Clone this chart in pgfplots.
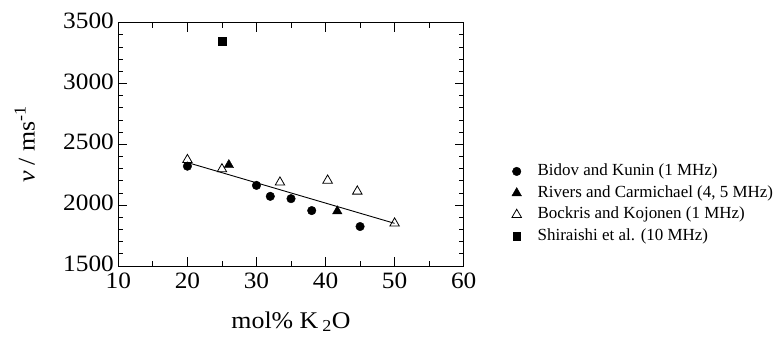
\documentclass[border=0pt]{standalone}
\usepackage{fontspec}
\setmainfont{Liberation Serif}
\newfontfamily\bigfont{Liberation Serif}[FakeStretch=1.08]
\usepackage{pgfplots}
\pgfplotsset{compat=1.18}
\begin{document}
\begin{tikzpicture}
\begin{axis}[
  name=ax,
  scale only axis,
  width=346.3pt, height=244pt,
  xmin=10, xmax=60, ymin=1500, ymax=3500,
  xtick={10,20,30,40,50,60},
  ytick={1500,2000,2500,3000,3500},
  minor x tick num=1,
  minor y tick num=4,
  tick pos=both, tick align=inside,
  major tick length=9pt, minor tick length=5pt,
  axis line style={line width=0.8pt},
  every tick/.style={black, line width=0.8pt},
  /pgf/number format/assume math mode=true,
  /pgf/number format/1000 sep={},
  ticklabel style={font=\bigfont\fontsize{23.5}{23.5}\selectfont},
  xticklabel style={yshift=-3pt},
  yticklabel style={xshift=-1pt, yshift=2pt},
  xlabel={mol\% K\,\textsubscript{2}O},
  ylabel={\textit{v} / ms\textsuperscript{-1}},
  label style={font=\bigfont\fontsize{24}{24}\selectfont},
  xlabel style={at={(rel axis cs:0.5,0)}, anchor=center, yshift=-56pt},
  ylabel style={at={(rel axis cs:0,0.5)}, anchor=center, yshift=94pt},
  legend style={draw=none, fill=none, at={(1,0.255)}, anchor=west, xshift=44pt,
    font=\fontsize{17}{18}\selectfont,
    nodes={inner sep=1pt, text height=12pt, text depth=4pt},
    row sep=3.7pt},
  legend cell align=left,
  legend image code/.code={\draw[#1] plot[only marks] coordinates {(0pt,0pt)}; \path[draw=none,fill=none] (-6pt,0pt) (20pt,0pt);},
]
\addplot[only marks, mark=*, mark size=4.3pt, black] coordinates {
(20,2320) (30,2162) (32,2072) (35,2053) (38,1955) (45,1824)};
\addlegendentry{Bidov and Kunin (1 MHz)}
\addplot[only marks, mark=triangle*, mark size=5.5pt, black] coordinates {
(26,2330) (41.7,1950)};
\addlegendentry{Rivers and Carmichael (4, 5 MHz)}
\addplot[only marks, mark=triangle, mark size=5.5pt, black, mark options={line width=0.8pt, fill=white}] coordinates {
(20,2372) (25,2296) (33.4,2187) (40.3,2203) (44.6,2113) (50,1850)};
\addlegendentry{Bockris and Kojonen (1 MHz)}
\addplot[only marks, mark=square*, mark size=4pt, black] coordinates {
(25,3350)};
\addlegendentry{Shiraishi et al. (10 MHz)}
\addplot[black, line width=0.9pt, forget plot] coordinates {(20,2350) (50,1850)};
\end{axis}
\path (ax.south west) ++(-118.7pt,-75.3pt) rectangle ++(777pt,342pt);
\end{tikzpicture}
\end{document}
